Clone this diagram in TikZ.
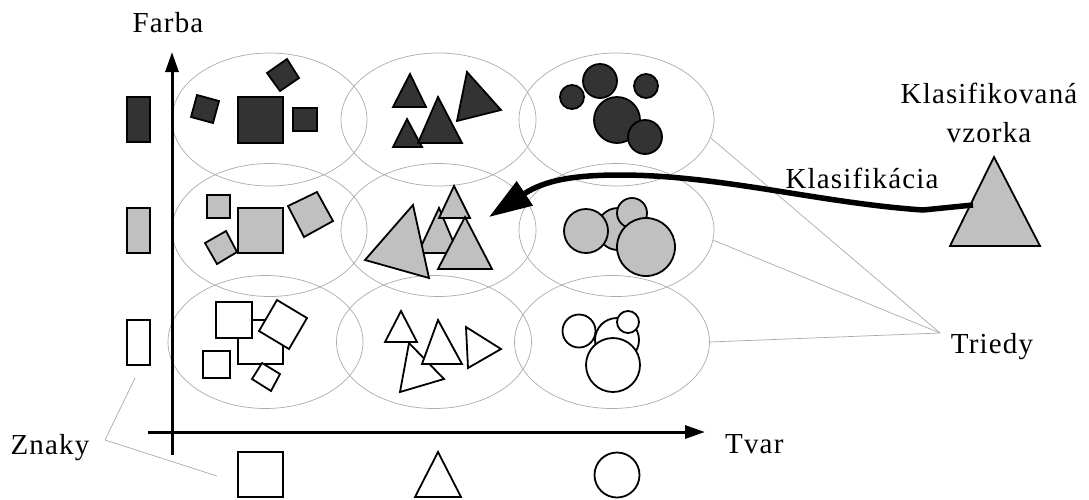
\documentclass[tikz,border=0pt]{standalone}
\usepackage{fontspec}
\setmainfont{Liberation Serif}[LetterSpace=4]
\usetikzlibrary{shapes.geometric,arrows.meta}
\definecolor{darkfill}{HTML}{333333}
\definecolor{grayfill}{HTML}{C0C0C0}
\definecolor{ellcol}{HTML}{ABABAB}
\begin{document}
\begin{tikzpicture}[x=1pt,y=-1pt,
  cls/.style={draw=ellcol,line width=0.7pt,ellipse,minimum width=195pt,minimum height=133pt,inner sep=0pt},
  dk/.style={draw=black,fill=darkfill,line width=1.8pt},
  gr/.style={draw=black,fill=grayfill,line width=1.8pt},
  wh/.style={draw=black,fill=white,line width=1.8pt},
  axisarrow/.style={line width=3pt,-{Triangle[length=20pt,width=13pt]}},
  lbl/.style={font=\fontsize{29}{34}\selectfont,inner sep=0pt},
  guide/.style={draw=ellcol,line width=0.7pt}
]
\useasboundingbox (0,0) rectangle (1089,499);

% class ellipses
\node[cls] (e11) at (269.5,119.5) {};
\node[cls] (e12) at (438.5,119.5) {};
\node[cls] (e13) at (616.5,119.5) {};
\node[cls] (e21) at (269.5,230) {};
\node[cls] (e22) at (438.5,230) {};
\node[cls] (e23) at (616.5,230) {};
\node[cls] (e31) at (265.5,342) {};
\node[cls] (e32) at (434,342) {};
\node[cls] (e33) at (612,342) {};

% labels
\node[lbl,anchor=base] (farba) at (168,32) {Farba};
\node[lbl,anchor=base west] (tvar) at (725,453) {Tvar};
\node[lbl,anchor=base] (znaky) at (50,454) {Znaky};
\node[lbl,anchor=base] (triedy) at (992,353) {Triedy};
\node[lbl,anchor=base] (klas) at (862,188) {Klasifikácia};
\node[lbl,anchor=base] (kv1) at (989,103) {Klasifikovaná};
\node[lbl,anchor=base] (kv2) at (989,142) {vzorka};

% guide lines
\coordinate (tp) at (940,333);
\draw[guide] (tp) -- (e13.-11);
\draw[guide] (tp) -- (e23.-6);
\draw[guide] (tp) -- (e33.east);
\coordinate (zp) at (105,440);
\coordinate (z1) at (135,378);
\coordinate (z2) at (217,476);
\draw[guide] (z1) -- (zp) -- (z2);

% axes
\coordinate (yb) at (172,455); \coordinate (yt) at (172,52);
\coordinate (xl) at (148,432); \coordinate (xr) at (705,432);
\draw[axisarrow] (yb) -- (yt);
\draw[axisarrow] (xl) -- (xr);

% legend: colours
\draw[dk] (127,97) rectangle (150,142);
\draw[gr] (127,208) rectangle (150,253);
\draw[wh] (127,320) rectangle (150,365);
% legend: shapes
\draw[wh] (238,452) rectangle (283,497);
\draw[wh] (438,452) -- (461,497) -- (415,497) -- cycle;
\draw[wh] (617,475) ellipse [x radius=22.5pt, y radius=22.5pt];

% row 1 (dark)
\draw[dk] (238,97) rectangle (283,143);
\draw[dk] (293,108) rectangle (317,131);
\draw[dk] (197,95) -- (219,101) -- (213,123) -- (191,117) -- cycle;
\draw[dk] (267,73) -- (287,59) -- (299,78) -- (280,91) -- cycle;

\draw[dk] (410,74) -- (426,107) -- (393,107) -- cycle;
\draw[dk] (407,119) -- (422,147) -- (393,147) -- cycle;
\draw[dk] (438,97) -- (462,143) -- (418,143) -- cycle;
\draw[dk] (467,72) -- (501,110) -- (457,121) -- cycle;

\draw[dk] (600,81) circle [radius=17pt];
\draw[dk] (572,97) circle [radius=12pt];
\draw[dk] (646,86) circle [radius=12pt];
\draw[dk] (617,120) circle [radius=23pt];
\draw[dk] (645,137) circle [radius=17pt];

% row 2 (gray)
\draw[gr] (207,195) rectangle (230,218);
\draw[gr] (238,208) rectangle (283,253);
\draw[gr] (205,243) -- (226,231) -- (237,252) -- (217,264) -- cycle;
\draw[gr] (288,206) -- (317,192) -- (333,221) -- (304,237) -- cycle;

\draw[gr] (439,208) -- (458,253) -- (418,253) -- cycle;
\draw[gr] (454,186) -- (470,218) -- (439,218) -- cycle;
\draw[gr] (413,205) -- (429,278) -- (365,260) -- cycle;
\draw[gr] (465,217) -- (492,269) -- (438,269) -- cycle;

\draw[gr] (618,229) circle [radius=21pt];
\draw[gr] (632,213) circle [radius=15pt];
\draw[gr] (586,231) circle [radius=22pt];
\draw[gr] (646,247) circle [radius=29pt];

% row 3 (white)
\draw[wh] (238,320) rectangle (283,364);
\draw[wh] (216,302) rectangle (252,338);
\draw[wh] (277,300) -- (307,318) -- (289,349) -- (259,331) -- cycle;
\draw[wh] (203,351) rectangle (230,378);
\draw[wh] (262,363) -- (280,374) -- (271,391) -- (252,379) -- cycle;

\draw[wh] (401,311) -- (417,342) -- (385,342) -- cycle;
\draw[wh] (409,343) -- (444,379) -- (400,392) -- cycle;
\draw[wh] (438,320) -- (462,364) -- (422,364) -- cycle;
\draw[wh] (466,327) -- (501,349) -- (468,368) -- cycle;

\draw[wh] (617,340) circle [radius=22pt];
\draw[wh] (628,322) circle [radius=11pt];
\draw[wh] (579,331) circle [radius=16.5pt];
\draw[wh] (613,365) circle [radius=27pt];

% classified sample
\draw[gr] (994,157) -- (1040,246) -- (950,246) -- cycle;
\coordinate (cs) at (973,205);
\coordinate (ct) at (489,217);
\draw[line width=5.5pt,-{Triangle[length=43pt,width=28pt]}] (cs) -- (923,210) .. controls (820,203) and (720,175) .. (620,175) .. controls (575,175) and (545,180) .. (ct);
\end{tikzpicture}
\end{document}
